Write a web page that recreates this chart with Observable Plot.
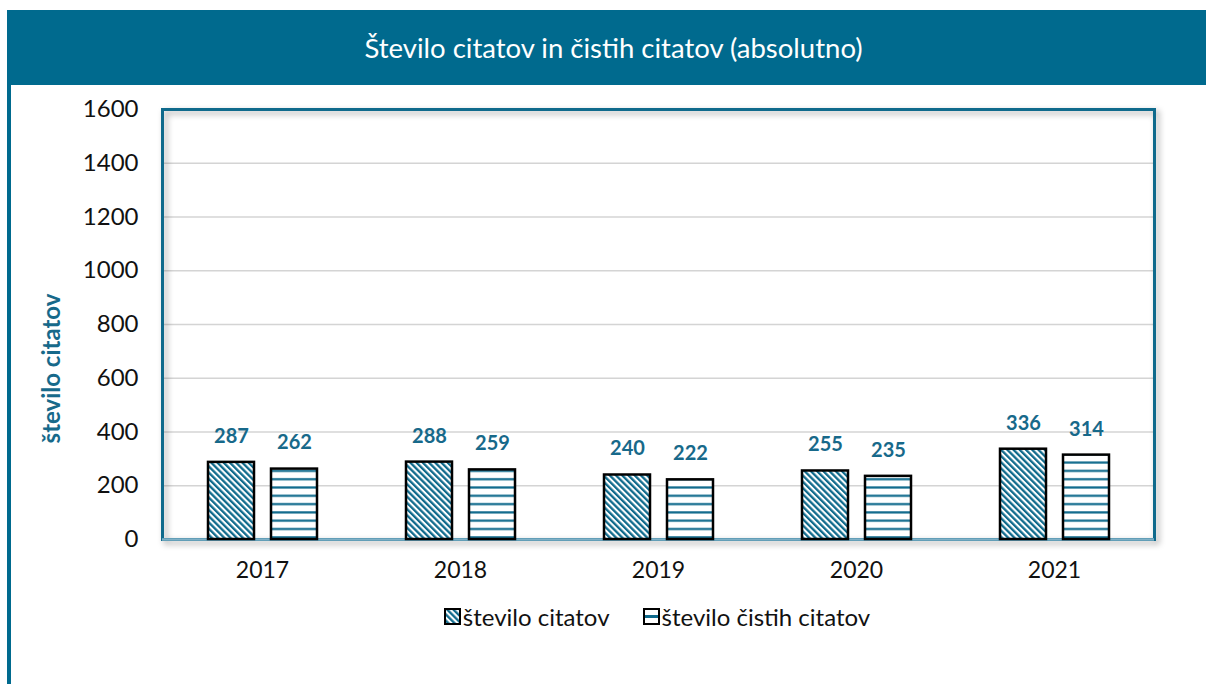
<!DOCTYPE html>
<html>
<head>
<meta charset="utf-8">
<script src="https://cdn.jsdelivr.net/npm/d3@7"></script>
<script src="https://cdn.jsdelivr.net/npm/@observablehq/plot@0.6"></script>
<style>
  html, body { margin: 0; padding: 0; background: #fff; }
  #page { position: relative; width: 1206px; height: 684px; overflow: hidden; font-family: Lato, "Open Sans", sans-serif; }
  #banner { position: absolute; left: 7px; top: 10px; width: 1199px; height: 75px; background: #006a8e;
            color: #fff; font-size: 27.5px; display: flex; align-items: center; justify-content: center; padding-left: 14px; box-sizing: border-box; }
  #leftline { position: absolute; left: 7px; top: 85px; width: 4px; height: 599px; background: #006a8e; }
  #chart { position: absolute; left: 0; top: 85px; }
  #legend { position: absolute; left: 0; top: 602px; width: 1206px; display: flex; justify-content: center;
            gap: 33px; font-size: 24px; color: #111; padding-left: 108px; box-sizing: border-box; }
  #legend .item { display: flex; align-items: center; gap: 2px; }
  #legend svg { display: block; }
</style>
</head>
<body>
<svg width="0" height="0" style="position:absolute">
  <defs>
    <pattern id="diag" patternUnits="userSpaceOnUse" width="4.4" height="4.4" patternTransform="rotate(-45)">
      <rect width="4.4" height="4.4" fill="#fff"/>
      <rect width="2.3" height="4.4" fill="#0f6a8c"/>
    </pattern>
    <pattern id="hstripe" patternUnits="userSpaceOnUse" width="8" height="8.3">
      <rect width="8" height="8.3" fill="#fff"/>
      <rect y="3" width="8" height="2.2" fill="#0f6a8c"/>
    </pattern>
    <pattern id="hstripeL" patternUnits="userSpaceOnUse" width="8" height="17">
      <rect width="8" height="17" fill="#fff"/>
      <rect y="7" width="8" height="3" fill="#0f6a8c"/>
    </pattern>
  </defs>
</svg>
<div id="page">
  <div id="banner">Število citatov in čistih citatov (absolutno)</div>
  <div id="leftline"></div>
  <div id="chart"></div>
  <div id="legend"></div>
</div>
<script>
const years = ["2017", "2018", "2019", "2020", "2021"];
const seriesNames = ["število citatov", "število čistih citatov"];
const citations = [287, 288, 240, 255, 336];
const cleanCitations = [262, 259, 222, 235, 314];
const yTicks = [0, 200, 400, 600, 800, 1000, 1200, 1400, 1600];
const yLabel = "število citatov";

const blue = "#0f6a8c";
const labelBlue = "#17698a";

const data1 = years.map((y, i) => ({year: y, value: citations[i], series: seriesNames[0]}));
const data2 = years.map((y, i) => ({year: y, value: cleanCitations[i], series: seriesNames[1]}));

const chart = Plot.plot({
  width: 1206,
  height: 500,
  marginLeft: 162,
  marginRight: 52,
  marginTop: 24,
  marginBottom: 46,
  style: {fontFamily: "Lato, 'Open Sans', sans-serif", fontSize: "23px", color: "#111", background: "transparent", overflow: "visible"},
  x: {domain: years, padding: 0, label: null, tickSize: 0, tickPadding: 22},
  y: {domain: [0, 1600], ticks: yTicks, tickFormat: d => String(d), label: null, tickSize: 0, tickPadding: 24},
  marks: [
    Plot.gridY(yTicks.filter(d => d > 0), {stroke: "#d4d4d4", strokeOpacity: 1, strokeWidth: 1.5}),
    Plot.frame({stroke: blue, strokeWidth: 3}),
    Plot.ruleY([0], {stroke: "#7fb0c6", strokeWidth: 2.5}),
    Plot.barY(data1, {x: "year", y: "value", fill: "url(#diag)", stroke: "#000", strokeWidth: 2.5, insetLeft: 45, insetRight: 107}),
    Plot.barY(data2, {x: "year", y: "value", fill: "url(#hstripe)", stroke: "#000", strokeWidth: 2.5, insetLeft: 108, insetRight: 44}),
    Plot.text(data1, {x: "year", y: "value", text: d => String(d.value), dx: -31, dy: -26, fill: labelBlue, fontWeight: "bold", fontSize: 20, lineAnchor: "middle"}),
    Plot.text(data2, {x: "year", y: "value", text: d => String(d.value), dx: 32, dy: -26, fill: labelBlue, fontWeight: "bold", fontSize: 20, lineAnchor: "middle"}),
    Plot.text([yLabel], {frameAnchor: "left", text: d => d, rotate: -90, dx: -110, dy: 44, fill: labelBlue, fontWeight: "bold", fontSize: 24, lineAnchor: "middle", textAnchor: "middle"})
  ]
});
chart.querySelectorAll('[aria-label="y-axis tick label"] text, [aria-label="y-axis tick label"]').forEach(el => el.style.fontSize = "24px");
document.getElementById("chart").appendChild(chart);
const fr = chart.querySelector('[aria-label="frame"]');
if (fr) fr.style.filter = "drop-shadow(3px 3px 3px rgba(0,0,0,0.35))";

// legend
const legend = document.getElementById("legend");
const fills = ["url(#diag)", "url(#hstripeL)"];
seriesNames.forEach((name, i) => {
  const item = document.createElement("div");
  item.className = "item";
  item.innerHTML = `<svg width="17" height="17"><rect x="1" y="1" width="15" height="15" fill="${fills[i]}" stroke="#000" stroke-width="2"/></svg><span>${name}</span>`;
  legend.appendChild(item);
});
</script>
</body>
</html>
